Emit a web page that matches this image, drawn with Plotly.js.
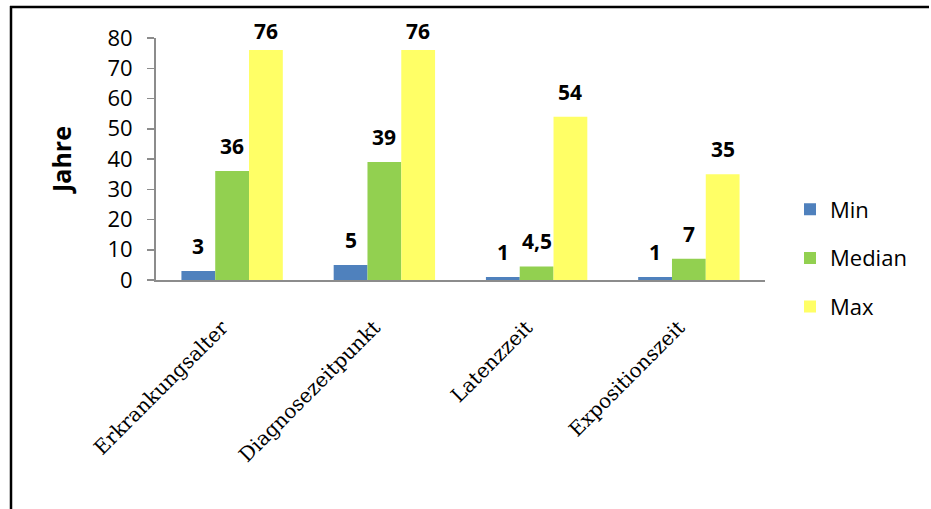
<!DOCTYPE html>
<html>
<head>
<meta charset="utf-8">
<script src="https://cdn.plot.ly/plotly-3.0.1.min.js"></script>
<style>
  html, body { margin: 0; padding: 0; background: #fff; }
  #chart { width: 931px; height: 509px; }
</style>
</head>
<body>
<div id="chart"></div>
<script>
// ---- data ----
const categories = ["Erkrankungsalter", "Diagnosezeitpunkt", "Latenzzeit", "Expositionszeit"];
const seriesNames = ["Min", "Median", "Max"];
const minValues = [3, 5, 1, 1];
const medianValues = [36, 39, 4.5, 7];
const maxValues = [76, 76, 54, 35];
const yTicks = [0, 10, 20, 30, 40, 50, 60, 70, 80];

// ---- layout constants ----
const W = 931, H = 509;
const M = { l: 156, r: 166, t: 38, b: 229 };
const plotW = W - M.l - M.r;
const plotH = H - M.t - M.b;
const yMax = 80;
const bargap = 0.334;
const colors = ["#4F81BD", "#92D050", "#FFFF66"];
const gray = "#8C8C8C";
const sansFont = "'Open Sans', 'Noto Sans', sans-serif";

const seriesValues = [minValues, medianValues, maxValues];

const traces = seriesValues.map((vals, i) => ({
  type: "bar",
  name: seriesNames[i],
  x: categories,
  y: vals,
  marker: { color: colors[i], line: { width: 0 } },
  legendgroup: "g" + i,
  hoverinfo: "x+y+name"
}));

// data labels placed above each bar
const catW = plotW / categories.length;
const barW = catW * (1 - bargap) / seriesValues.length;
const pxPerUnit = plotH / yMax;
const annotations = [];
seriesValues.forEach((vals, i) => {
  vals.forEach((v, j) => {
    const barTopPx = M.t + plotH - v * pxPerUnit;
    const shift = Math.min(25, barTopPx - 31);
    annotations.push({
      xref: "x", yref: "y",
      x: categories[j], y: v,
      xshift: (i - 1) * barW,
      yshift: shift,
      yanchor: "middle",
      text: String(v).replace(".", ","),
      showarrow: false,
      font: { family: sansFont, size: 21, color: "#000", weight: "bold" }
    });
  });
});

// frame lines (top and left) in paper coordinates
const px2x = px => (px - M.l) / plotW;
const px2y = py => (M.t + plotH - py) / plotH;
const shapes = [
  { type: "line", xref: "paper", yref: "paper",
    x0: px2x(10), x1: px2x(929), y0: px2y(7), y1: px2y(7),
    line: { color: "#000", width: 2.5 } },
  { type: "line", xref: "paper", yref: "paper",
    x0: px2x(11), x1: px2x(11), y0: px2y(6), y1: px2y(H + 5),
    line: { color: "#000", width: 2.5 } }
];

const layout = {
  width: W, height: H,
  margin: M,
  paper_bgcolor: "#fff",
  plot_bgcolor: "#fff",
  barmode: "group",
  bargap: bargap,
  bargroupgap: 0,
  showlegend: true,
  legend: {
    x: px2x(790), xanchor: "left",
    y: px2y(258), yanchor: "middle",
    font: { family: sansFont, size: 22, color: "#000" },
    tracegroupgap: 17,
    bgcolor: "rgba(0,0,0,0)"
  },
  xaxis: {
    type: "category",
    showline: true, linecolor: gray, linewidth: 2,
    ticks: "", showgrid: false, zeroline: false,
    tickangle: -45,
    tickfont: { family: "'DejaVu Serif', serif", size: 20, color: "#000" },
    ticklabelstandoff: 26,
    ticklabelshift: -10,
    automargin: false
  },
  yaxis: {
    range: [0, yMax],
    tickvals: yTicks,
    ticktext: yTicks.map(String),
    showline: true, linecolor: gray, linewidth: 2,
    ticks: "outside", ticklen: 7, tickwidth: 1.5, tickcolor: gray,
    showgrid: false, zeroline: false,
    tickfont: { family: sansFont, size: 22, color: "#000" },
    ticklabelstandoff: 10,
    title: { text: "Jahre", font: { family: sansFont, size: 25, color: "#000", weight: "bold" }, standoff: 29 },
    automargin: false
  },
  annotations: annotations,
  shapes: shapes
};

Plotly.newPlot("chart", traces, layout, { displayModeBar: false, staticPlot: true });
</script>
</body>
</html>
